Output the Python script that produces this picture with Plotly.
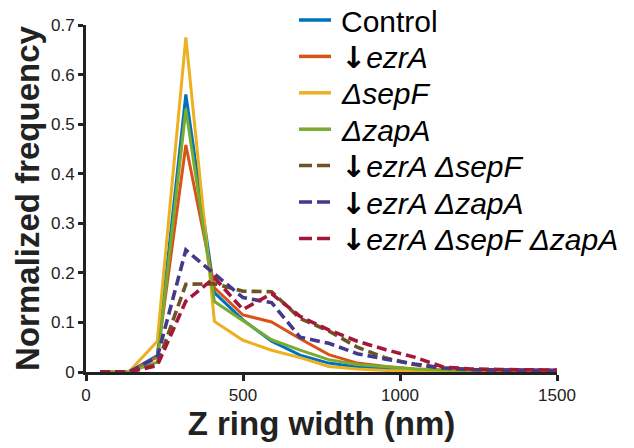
import plotly.graph_objects as go

# ---- data ----
widths_nm = [45, 136, 227, 318, 409, 500, 591, 682, 773, 864, 955, 1046, 1137, 1228, 1319, 1410, 1500]

control   = [0, 0, 0.033, 0.560, 0.160, 0.105, 0.062, 0.034, 0.018, 0.010, 0.006, 0.003, 0.002, 0.001, 0.001, 0, 0]
ezrA      = [0, 0, 0.030, 0.458, 0.170, 0.115, 0.101, 0.067, 0.035, 0.018, 0.011, 0.006, 0.004, 0.002, 0.001, 0.001, 0]
sepF      = [0, 0, 0.062, 0.675, 0.102, 0.064, 0.044, 0.029, 0.011, 0.006, 0.003, 0.002, 0.001, 0.001, 0, 0, 0]
zapA      = [0, 0, 0.020, 0.530, 0.142, 0.103, 0.065, 0.044, 0.025, 0.015, 0.010, 0.006, 0.004, 0.002, 0.001, 0.001, 0]
ezrA_sepF = [0, 0, 0.015, 0.177, 0.178, 0.163, 0.162, 0.108, 0.083, 0.050, 0.028, 0.015, 0.008, 0.005, 0.004, 0.003, 0.003]
ezrA_zapA = [0, 0, 0.030, 0.246, 0.198, 0.150, 0.140, 0.070, 0.058, 0.037, 0.026, 0.016, 0.008, 0.005, 0.004, 0.003, 0.003]
ezrA_sepF_zapA = [0, 0, 0.013, 0.143, 0.190, 0.126, 0.158, 0.112, 0.085, 0.062, 0.045, 0.030, 0.010, 0.006, 0.005, 0.005, 0.004]

ARROW = '<span style="font-family:DejaVu Sans"><b>↓</b></span>'
series_names = [
    "Control",
    ARROW + "<i>ezrA</i>",
    "<i>ΔsepF</i>",
    "<i>ΔzapA</i>",
    ARROW + "<i>ezrA ΔsepF</i>",
    ARROW + "<i>ezrA ΔzapA</i>",
    ARROW + "<i>ezrA ΔsepF ΔzapA</i>",
]
series_values = [control, ezrA, sepF, zapA, ezrA_sepF, ezrA_zapA, ezrA_sepF_zapA]
series_colors = ["#0072BD", "#D95319", "#EDB120", "#77AC30", "#6E5325", "#433A8C", "#A3183A"]
series_dashed = [False, False, False, False, True, True, True]

x_ticks = [0, 500, 1000, 1500]
y_ticks = [0, 0.1, 0.2, 0.3, 0.4, 0.5, 0.6, 0.7]
y_ticklabels = ["0", "0.1", "0.2", "0.3", "0.4", "0.5", "0.6", "0.7"]

# ---- figure ----
W, H = 634, 448
ML, MR, MT, MB = 86, 77, 25, 76
FONT = "Liberation Sans, Arial, Helvetica, sans-serif"
AX = "#222222"

fig = go.Figure()
for name, vals, col, dashed in zip(series_names, series_values, series_colors, series_dashed):
    fig.add_trace(go.Scatter(
        x=widths_nm, y=vals, mode="lines", name=name,
        line=dict(color=col, width=3.6 if dashed else 3, dash="10px,5px" if dashed else "solid"),
        showlegend=False,
    ))

# legend drawn manually (rows tighter than plotly's legend allows)
plot_w = W - ML - MR
plot_h = H - MT - MB
def px2x(px):
    return (px - ML) / plot_w
def px2y(py):
    return (H - MB - py) / plot_h

row0, row_gap = 20, 36.4
for i, (name, col, dashed) in enumerate(zip(series_names, series_colors, series_dashed)):
    yc = row0 + i * row_gap
    fig.add_shape(type="line", xref="paper", yref="paper",
                  x0=px2x(299), x1=px2x(331), y0=px2y(yc), y1=px2y(yc),
                  line=dict(color=col, width=3.5, dash="13px,5px" if dashed else "solid"))
    fig.add_annotation(xref="paper", yref="paper", x=px2x(339), y=px2y(yc + 1),
                       xanchor="left", yanchor="middle", text=name, showarrow=False,
                       font=dict(family=FONT, size=30, color="#000000"))

fig.update_layout(
    width=W, height=H,
    margin=dict(l=ML, r=MR, t=MT, b=MB, pad=0),
    paper_bgcolor="white", plot_bgcolor="white",
    font=dict(family=FONT, color=AX),
    xaxis=dict(
        range=[0, 1500], tickmode="array", tickvals=x_ticks,
        ticks="outside", ticklen=6, tickwidth=3, tickcolor=AX,
        showline=True, linecolor=AX, linewidth=3,
        showgrid=False, zeroline=False,
        tickfont=dict(family=FONT, size=17, color=AX),
        title=dict(text="<b>Z ring width (nm)</b>", font=dict(family=FONT, size=33, color=AX), standoff=6),
    ),
    yaxis=dict(
        range=[0, 0.7], tickmode="array", tickvals=y_ticks, ticktext=y_ticklabels,
        ticks="outside", ticklen=5, tickwidth=3, tickcolor=AX,
        showline=True, linecolor=AX, linewidth=3,
        showgrid=False, zeroline=False,
        tickfont=dict(family=FONT, size=17, color=AX),
        title=dict(text="<b>Normalized frequency</b>", font=dict(family=FONT, size=33, color=AX), standoff=2),
    ),
)

fig.write_html("out.html")
